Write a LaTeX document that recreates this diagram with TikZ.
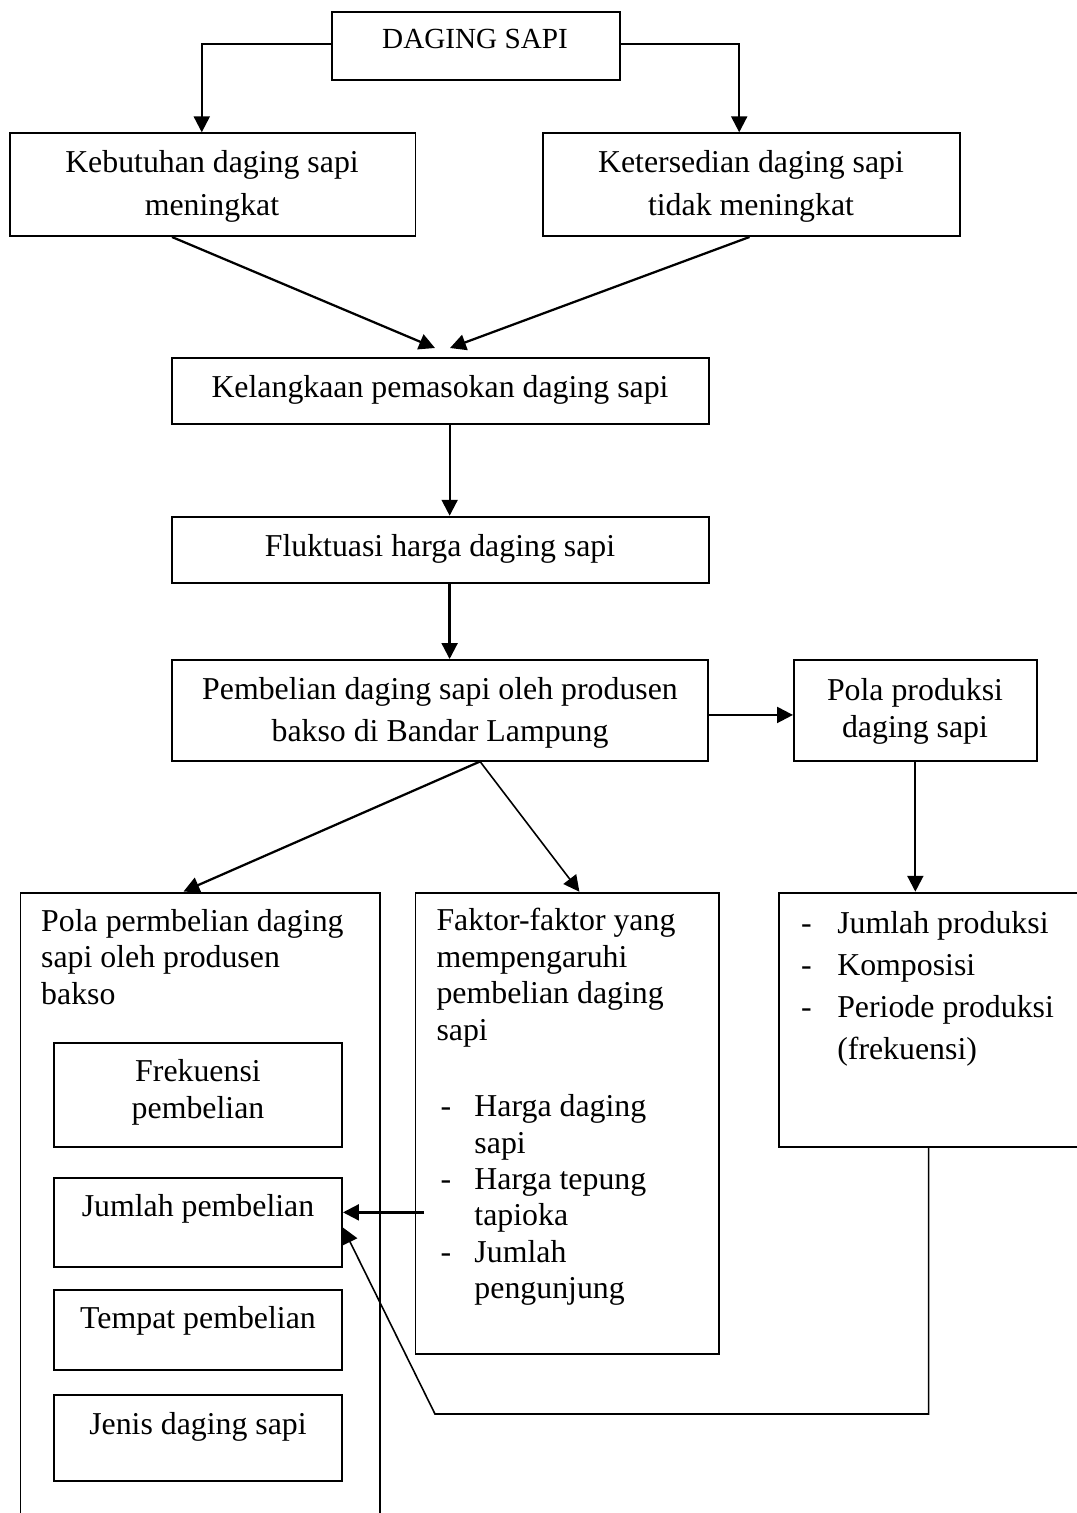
\documentclass[tikz,border=0pt]{standalone}
\usepackage{fontspec}
\setmainfont{Liberation Serif}
\usetikzlibrary{arrows.meta,fit,calc}

\begin{document}
\begin{tikzpicture}[
    x=0.377pt, y=-0.377pt,
    box/.style={draw, line width=0.75pt, inner sep=0pt},
    txt/.style={inner sep=0pt, anchor=base, align=center, font=\fontsize{12}{15.85}\selectfont},
    txtsingle/.style={txt, font=\fontsize{12}{13.7}\selectfont},
    arr/.style={-{Triangle[length=6pt,width=6pt]}, line width=0.85pt},
    thinarr/.style={arr, line width=0.6pt}
  ]
    \useasboundingbox (0,0) rectangle (1077,1513);

    % kotak atas
    \node[box, fit={(332.4,12.3) (619.7,80)}] (sapi) {};
    \node[box, fit={(10.3,133.3) (415.5,236)}] (butuh) {};
    \node[box, fit={(542.6,133.3) (960,236)}] (sedia) {};
    \node[box, fit={(172,357.7) (709,424)}] (langka) {};
    \node[box, fit={(172,516.7) (709,582.7)}] (fluk) {};
    \node[box, fit={(172,660) (708,760.5)}] (beli) {};
    \node[box, fit={(794,660) (1036.7,760.5)}] (produksi) {};

    % kotak bawah
    \node[box, fit={(20.5,892.5) (380,1530)}] (polabeli) {};
    \node[box, fit={(415.5,892.7) (719,1354)}] (faktor) {};
    \node[box, fit={(778.5,892.7) (1078.7,1147)}] (hasil) {};
    \node[box, fit={(54,1043) (342,1147)}] (frek) {};
    \node[box, fit={(54,1178) (342,1267)}] (jumlah) {};
    \node[box, fit={(54,1290) (342,1370)}] (tempat) {};
    \node[box, fit={(54,1395) (342,1481)}] (jenis) {};

    % teks (anchor base = baris terakhir)
    \node[txt, font=\fontsize{11}{13}\selectfont] (tSapi) at (475,48.3) {DAGING SAPI};
    \node[txt] (tButuh) at (212,215) {Kebutuhan daging sapi\\meningkat};
    \node[txt] (tSedia) at (751,215) {Ketersedian daging sapi\\tidak meningkat};
    \node[txt] (tLangka) at (440,397) {Kelangkaan pemasokan daging sapi};
    \node[txt] (tFluk) at (440,556.7) {Fluktuasi harga daging sapi};
    \node[txt] (tBeli) at (440,741.7) {Pembelian daging sapi oleh produsen\\bakso di Bandar Lampung};
    \node[txt, font=\fontsize{12}{13.95}\selectfont] (tProduksi) at (915,737) {Pola produksi\\daging sapi};

    \node[txtsingle, anchor=base west, align=left] (tPolaBeli) at (40.7,1004)
      {Pola permbelian daging\\sapi oleh produsen\\bakso};
    \node[txtsingle] (tFrek) at (198,1118) {Frekuensi\\pembelian};
    \node[txtsingle] (tJumlah) at (198,1216.7) {Jumlah pembelian};
    \node[txtsingle] (tTempat) at (198,1328) {Tempat pembelian};
    \node[txtsingle] (tJenis) at (198,1434) {Jenis daging sapi};

    \node[txtsingle, anchor=base west, align=left] (tFaktor) at (436,1040)
      {Faktor-faktor yang\\mempengaruhi\\pembelian daging\\sapi};
    \node[txtsingle, anchor=base west, align=left] (tFaktorList) at (440,1116.7)
      {\begin{tabular}[t]{@{}p{12.8pt}@{}l@{}}
        - & Harga daging\\
          & sapi\\
        - & Harga tepung\\
          & tapioka\\
        - & Jumlah\\
          & pengunjung
      \end{tabular}};
    \node[txt, anchor=base west, align=left] (tHasil) at (800.7,933.3)
      {\begin{tabular}[t]{@{}p{13.6pt}@{}l@{}}
        - & Jumlah produksi\\
        - & Komposisi\\
        - & Periode produksi\\
          & (frekuensi)
      \end{tabular}};

    % panah
    \coordinate (masukKiri) at (435,348);
    \coordinate (masukKanan) at (450,348);
    \coordinate (belok) at (435,1414);

    \draw[arr] (sapi.179) -| (butuh.102);
    \draw[arr] (sapi.1) -| (sedia.103.5);
    \draw[arr] (butuh.232) -- (masukKiri);
    \draw[arr] (sedia.268.5) -- (masukKanan);
    \draw[arr] (langka.285.5) -- (langka.285.5 |- fluk.north);
    \draw[arr] (fluk.285.5) -- (fluk.285.5 |- beli.north);
    \draw[arr] (beli.-1) -- (beli.-1 -| produksi.west);
    \draw[arr] (produksi.south) -- (produksi.south |- hasil.north);
    \draw[arr] (beli.308.5) -- (polabeli.93.6);
    \draw[thinarr] (beli.308.5) -- (faktor.87.6);
    \draw[arr] ($(faktor.west |- jumlah.4.2)+(9.5,0)$) -- (jumlah.4.2);
    \draw[thinarr] (hasil.south) |- (belok) -- (jumlah.-2.2);
\end{tikzpicture}
\end{document}
